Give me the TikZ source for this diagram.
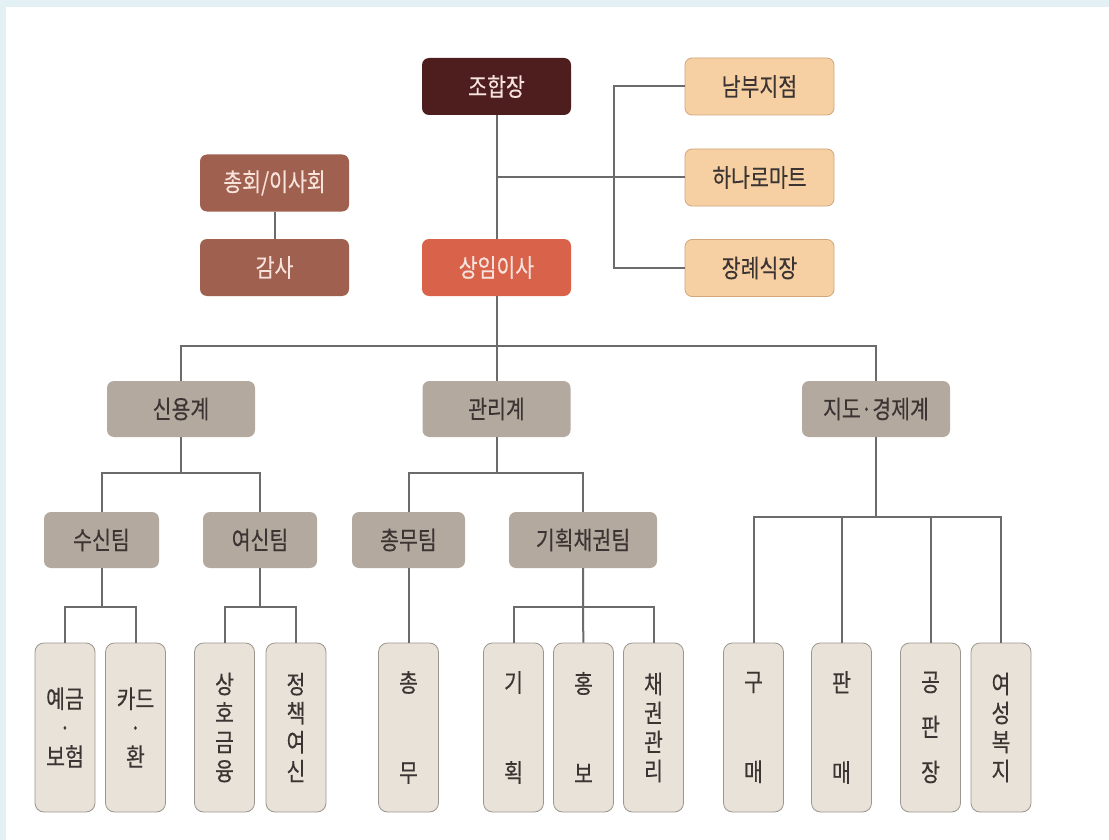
\documentclass[tikz,border=0pt]{standalone}
\usepackage{fontspec}
\newfontfamily\kr[FakeStretch=0.82,FakeBold=0.3]{Noto Sans CJK KR}
\usepackage{tikz}

\definecolor{frameblue}{HTML}{E3F1F4}
\definecolor{chiefred}{HTML}{4E1E1F}
\definecolor{boardred}{HTML}{A0604F}
\definecolor{execred}{HTML}{D9624A}
\definecolor{peach}{HTML}{F6D0A2}
\definecolor{peachline}{HTML}{D2A57C}
\definecolor{taupe}{HTML}{B4A99F}
\definecolor{beige}{HTML}{E9E2D8}
\definecolor{beigeline}{HTML}{9C9690}
\definecolor{linegray}{HTML}{6B6B6B}
\definecolor{lighttext}{HTML}{F7E3DC}
\definecolor{darktext}{HTML}{3B3433}

\begin{document}
\begin{tikzpicture}[x=1pt,y=-1pt,
  box/.style={rounded corners=7pt, minimum width=149pt, minimum height=57pt,
    inner sep=0pt, font=\kr\fontsize{25}{29}\selectfont},
  chief/.style={box, fill=chiefred, text=lighttext},
  board/.style={box, fill=boardred, text=lighttext},
  exec/.style={box, fill=execred, text=lighttext},
  branch/.style={box, fill=peach, draw=peachline, line width=0.8pt, text=darktext},
  dept/.style={box, fill=taupe, minimum width=148pt, minimum height=56pt, text=darktext},
  team/.style={dept},
  unit/.style={box, fill=beige, draw=beigeline, line width=0.8pt, rounded corners=9pt,
    minimum width=60pt, minimum height=169pt, align=center, text=darktext},
  link/.style={draw=linegray, line width=2pt}]

% Frame
\useasboundingbox (0,0) rectangle (1109,840);
\fill[frameblue] (0,0) rectangle (1109,840);
\fill[white] (6,7) rectangle (1109,840);

% Top of the chart
\node[chief] (J) at (496.5,86.5) {조합장};
\node[board] (C) at (274.5,183) {총회/이사회};
\node[board] (G) at (274.5,267.5) {감사};
\node[exec] (S) at (496.5,267.5) {상임이사};
\node[branch] (N) at (759.5,86.5) {남부지점};
\node[branch] (H) at (759.5,177.5) {하나로마트};
\node[branch] (R) at (759.5,268) {장례식장};

% Departments
\node[dept] (D1) at (181,409) {신용계};
\node[dept] (D2) at (496.5,409) {관리계};
\node[dept] (D3) at (876,409) {지도·경제계};

% Teams
\node[team, minimum width=115pt] (T1) at (101.5,540) {수신팀};
\node[team, minimum width=114pt] (T2) at (260,540) {여신팀};
\node[team, minimum width=113pt] (T3) at (408.5,540) {총무팀};
\node[team] (T4) at (583,540) {기획채권팀};

% Units
\node[unit] (U1) at (65,727.5) {예금\\·\\보험};
\node[unit] (U2) at (135.5,727.5) {카드\\·\\환};
\node[unit] (U3) at (224.5,727.5) {상\\호\\금\\융};
\node[unit] (U4) at (296,727.5) {정\\책\\여\\신};
\node[unit] (U5) at (408.5,727.5) {총\\[61pt]무};
\node[unit] (U6) at (513.5,727.5) {기\\[61pt]획};
\node[unit] (U7) at (583.5,727.5) {홍\\[61pt]보};
\node[unit] (U8) at (653.5,727.5) {채\\권\\관\\리};
\node[unit] (U9) at (753.5,727.5) {구\\[61pt]매};
\node[unit] (U10) at (841.5,727.5) {판\\[61pt]매};
\node[unit] (U11) at (930.5,727.5) {공\\[16pt]판\\[16pt]장};
\node[unit] (U12) at (1001,727.5) {여\\성\\복\\지};

% Connect the top
\coordinate (mid) at (614,177.5);
\draw[link] (J) -- (S);
\draw[link] (J.south |- H.west) -- (H.west);
\draw[link] (N.west) -| (mid) |- (R.west);
\draw[link] (C) -- (G);

% Connect the departments
\coordinate (top2) at (496.5,346);
\draw[link] (S) -- (D2);
\draw[link] (D1.north) |- (top2) -| (D3.north);

% Connect the teams
\coordinate (j1) at (181,473);
\coordinate (j2) at (496.5,473);
\coordinate (j3) at (876,517);
\draw[link] (D1) -- (j1);
\draw[link] (T1.north) |- (j1) -| (T2.north);
\draw[link] (D2) -- (j2);
\draw[link] (T3.north) |- (j2) -| (T4.north);
\draw[link] (D3) -- (j3);
\draw[link] (U9.north) |- (j3) -| (U12.north);
\draw[link] (U10.north) -- (U10.north |- j3);
\draw[link] (U11.north) -- (U11.north |- j3);

% Connect the units
\coordinate (k1) at (T1.south |- 0,607);
\coordinate (k2) at (T2.south |- 0,607);
\coordinate (k4) at (T4.south |- 0,607);
\draw[link] (T1) -- (k1);
\draw[link] (U1.north) |- (k1) -| (U2.north);
\draw[link] (T2) -- (k2);
\draw[link] (U3.north) |- (k2) -| (U4.north);
\draw[link] (T3) -- (U5);
\draw[link] (T4) -- (U7);
\draw[link] (U6.north) |- (k4) -| (U8.north);

\end{tikzpicture}
\end{document}
